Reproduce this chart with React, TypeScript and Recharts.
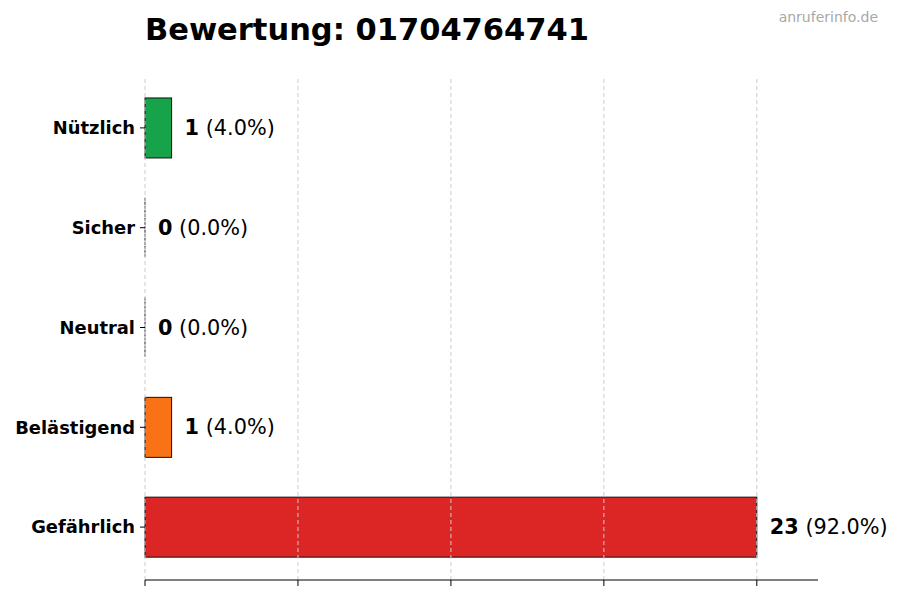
import React from 'react';
import {
  BarChart,
  Bar,
  XAxis,
  YAxis,
  Cell,
  LabelList,
  ReferenceLine,
} from 'recharts';

const categories = ['Nützlich', 'Sicher', 'Neutral', 'Belästigend', 'Gefährlich'];
const counts = [1, 0, 0, 1, 23];
const barColors = ['#16a34a', '#16a34a', '#6b7280', '#f97316', '#dc2626'];
const gridTicks = [0, 5.75, 11.5, 17.25, 23];

const total = counts.reduce((a, b) => a + b, 0);
const rows = categories.map((name, i) => ({ name, count: counts[i] }));

const FONT = '"DejaVu Sans", sans-serif';

// draws the edge even for zero-width bars, like matplotlib does
const EdgeBar = (props: any) => {
  const { x, y, width, height, fill, value } = props;
  const v = Array.isArray(value) ? value[1] - value[0] : value;
  if (!v) {
    return <line x1={x} x2={x} y1={y} y2={y + height} stroke="#222" strokeWidth={1} strokeDasharray="3 1" />;
  }
  return (
    <rect x={x} y={y} width={width} height={height} fill={fill} stroke="#111" strokeWidth={1} />
  );
};

const ValueLabel = (props: any) => {
  const { x, y, width, height, value } = props;
  const pct = total ? ((value / total) * 100).toFixed(1) : '0.0';
  const w = value ? width : 0;
  return (
    <text
      x={x + w + 13}
      y={y + height / 2}
      dominantBaseline="central"
      fontFamily={FONT}
      fontSize={20.8}
      fill="#000"
    >
      <tspan fontWeight="bold">{value}</tspan>
      <tspan> ({pct}%)</tspan>
    </text>
  );
};

export default function App() {
  return (
    <div style={{ position: 'absolute', left: 0, top: 0, width: 900, height: 600, background: '#fff', fontFamily: FONT }}>
      <div style={{ position: 'absolute', left: 145, top: 12, fontSize: 30.5, fontWeight: 'bold', color: '#000', whiteSpace: 'nowrap' }}>
        Bewertung: 01704764741
      </div>
      <div style={{ position: 'absolute', right: 22, top: 9, fontSize: 14, color: '#a8a8a8' }}>
        anruferinfo.de
      </div>
      <BarChart
        width={900}
        height={600}
        data={rows}
        layout="vertical"
        margin={{ top: 76, right: 82, bottom: 0, left: 0 }}
        barCategoryGap="20%"
      >
        <XAxis
          type="number"
          domain={[0, 25.3]}
          ticks={gridTicks}
          tickFormatter={() => ''}
          height={20}
          tickSize={6}
          stroke="#000"
          axisLine={{ stroke: '#000' }}
        />
        <YAxis
          type="category"
          dataKey="name"
          width={145}
          axisLine={false}
          padding={{ top: 2, bottom: 3 }}
          stroke="#000"
          tickSize={5}
          tickMargin={5}
          tickLine={{ stroke: '#000' }}
          tick={{ fill: '#000', fontSize: 17.9, fontWeight: 'bold', fontFamily: FONT }}
        />
        <Bar dataKey="count" shape={EdgeBar} minPointSize={1} isAnimationActive={false}>
          {rows.map((r, i) => (
            <Cell key={r.name} fill={barColors[i]} />
          ))}
          <LabelList dataKey="count" content={ValueLabel} />
        </Bar>
        {gridTicks.map((t) => (
          <ReferenceLine key={t} x={t} stroke="#cccccc" strokeDasharray="4 3" strokeWidth={1} />
        ))}
      </BarChart>
    </div>
  );
}
